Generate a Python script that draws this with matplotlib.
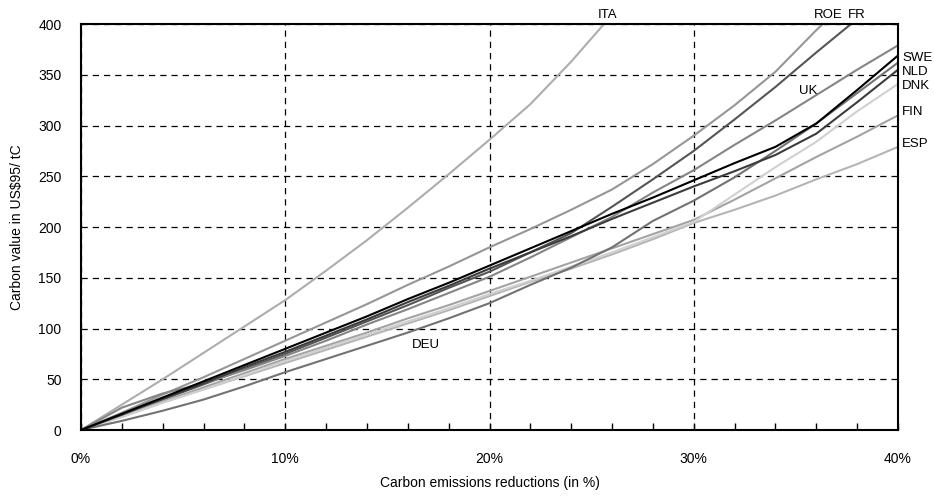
import numpy as np
import matplotlib
matplotlib.use('Agg')
import matplotlib.pyplot as plt
from matplotlib.ticker import MultipleLocator, FuncFormatter

plt.rcParams['font.family'] = ['Liberation Sans', 'DejaVu Sans']

# emission reductions (%)
reduction = [0, 2, 4, 6, 8, 10, 12, 14, 16, 18, 20, 22, 24, 26, 28, 30, 32, 34, 36, 38, 40]
nan = np.nan

# carbon values (US$95/tC)
ita = [0, 25, 50, 76, 102, 128, 157, 187, 219, 252, 286, 321, 363, 409, nan, nan, nan, nan, nan, nan, nan]
roe = [0, 17, 35, 52, 70, 88, 106, 124, 143, 161, 180, 198, 217, 237, 262, 290, 320, 353, 394, 432, nan]
fr = [0, 15, 30, 45, 60, 75, 91, 107, 123, 140, 156, 175, 194, 220, 247, 275, 306, 338, 372, 405, nan]
uk = [0, 22, 36, 46, 59, 73, 88, 104, 119, 135, 151, 170, 190, 210, 234, 256, 281, 305, 330, 355, 379]
swe = [0, 16, 32, 48, 64, 80, 96, 112, 129, 145, 162, 179, 196, 213, 229, 246, 263, 279, 302, 335, 369]
nld = [0, 15, 31, 46, 62, 77, 93, 109, 126, 142, 159, 175, 191, 208, 224, 240, 255, 271, 292, 323, 355]
deu = [0, 9, 19, 30, 43, 57, 70, 83, 96, 110, 125, 143, 160, 180, 206, 226, 249, 275, 302, 332, 362]
dnk = [0, 13, 27, 40, 54, 68, 81, 94, 107, 120, 134, 147, 161, 175, 190, 205, 232, 259, 284, 314, 341]
fin = [0, 14, 28, 42, 56, 70, 83, 96, 110, 123, 137, 151, 165, 179, 193, 207, 227, 248, 269, 289, 310]
esp = [0, 13, 27, 40, 53, 66, 79, 92, 105, 118, 132, 146, 159, 173, 188, 204, 217, 231, 247, 262, 279]

series = [
    (ita, '#adadad'), (roe, '#969696'), (fr, '#555555'), (uk, '#858585'),
    (esp, '#b5b5b5'), (fin, '#a3a3a3'), (dnk, '#d0d0d0'), (deu, '#727272'),
    (nld, '#3c3c3c'), (swe, '#000000'),
]

fig = plt.figure(figsize=(9.34, 4.98), dpi=100)
ax = fig.add_axes([0.0867, 0.1365, 0.8748, 0.8153])

for vals, col in series:
    ax.plot(reduction, vals, color=col, lw=1.5)

ax.set_xlim(0, 40)
ax.set_ylim(0, 400)
ax.xaxis.set_major_locator(MultipleLocator(10))
ax.xaxis.set_minor_locator(MultipleLocator(2))
ax.yaxis.set_major_locator(MultipleLocator(50))
ax.xaxis.set_major_formatter(FuncFormatter(lambda v, p: f'{v:.0f}%'))
ax.grid(True, color='black', linestyle=(0, (5, 4)), linewidth=0.9)
ax.tick_params(axis='x', which='both', direction='in', length=5, width=1, pad=16, labelsize=10)
ax.tick_params(axis='y', length=0, pad=14, labelsize=10)
for s in ax.spines.values():
    s.set_linewidth(1.5)

ax.set_xlabel('Carbon emissions reductions (in %)', fontsize=10, labelpad=7)
ax.set_ylabel('Carbon value in US$95/ tC', fontsize=10, labelpad=10)

# country labels
lab = dict(fontsize=9.5, clip_on=False)
ax.text(25.8, 409, 'ITA', ha='center', va='center', **lab)
ax.text(36.6, 409, 'ROE', ha='center', va='center', **lab)
ax.text(38.0, 409, 'FR', ha='center', va='center', **lab)
ax.text(40.2, 367, 'SWE', ha='left', va='center', **lab)
ax.text(40.2, 353, 'NLD', ha='left', va='center', **lab)
ax.text(40.2, 339, 'DNK', ha='left', va='center', **lab)
ax.text(40.2, 313, 'FIN', ha='left', va='center', **lab)
ax.text(40.2, 282, 'ESP', ha='left', va='center', **lab)
ax.text(35.6, 334, 'UK', ha='center', va='center', **lab)
ax.text(16.9, 84, 'DEU', ha='center', va='center', **lab)

fig.savefig('out.png', dpi=100)
